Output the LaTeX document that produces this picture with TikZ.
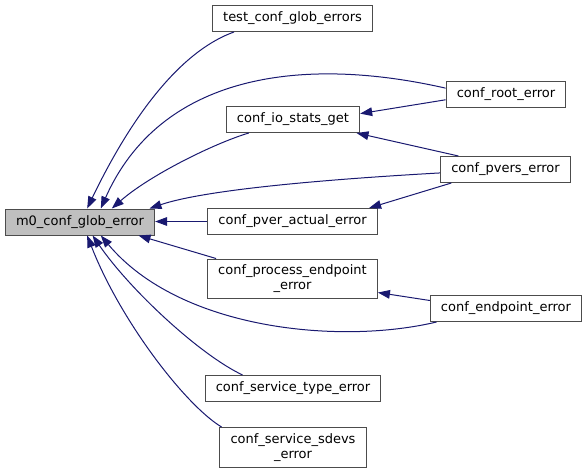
\documentclass[tikz,border=0pt]{standalone}
\usepackage{fontspec}
\setmainfont{DejaVu Sans}
\usetikzlibrary{arrows.meta}
\definecolor{doxyblue}{RGB}{25,25,112}
\definecolor{doxygrey}{RGB}{191,191,191}
\tikzset{
  fn/.style={draw=black!70, line width=0.75pt, fill=white, inner xsep=8pt,
    inner ysep=4.5pt, minimum height=19.5pt, align=center,
    font=\fontsize{9.75}{11.25}\selectfont},
  call/.style={->, draw=doxyblue, line width=0.75pt},
}
\begin{document}
\begin{tikzpicture}[>={Triangle[length=9pt,width=6.5pt]}, x=0.75pt, y=-0.75pt]
    \useasboundingbox (0,0) rectangle (588,474);
    % 1. Hàm chính
    \node[fn, fill=doxygrey] (glob) at (80,222) {m0\_conf\_glob\_error};

    % 2. Các hàm gọi trực tiếp
    \node[fn] (test) at (292.5,18.5) {test\_conf\_glob\_errors};
    \node[fn] (iostats) at (293,119.5) {conf\_io\_stats\_get};
    \node[fn] (pveract) at (292.5,221.5) {conf\_pver\_actual\_error};
    \node[fn] (process) at (292.5,279) {conf\_process\_endpoint\\\_error};
    \node[fn] (svctype) at (293,388.5) {conf\_service\_type\_error};
    \node[fn] (sdevs) at (293,447.5) {conf\_service\_sdevs\\\_error};

    % 3. Các hàm ở cột phải
    \node[fn] (root) at (506,94.5) {conf\_root\_error};
    \node[fn] (pvers) at (505.5,169.5) {conf\_pvers\_error};
    \node[fn] (endpoint) at (506,308.5) {conf\_endpoint\_error};

    % 4. Các cạnh về hàm chính
    \draw[call] (test.193) .. controls (170,55) and (120,140) .. (glob.62);
    \draw[call] (root.174) .. controls (300,55) and (160,75) .. (glob.33);
    \draw[call] (iostats.197) .. controls (215,143) and (150,175) .. (glob.23);
    \draw[call] (pvers.183) .. controls (350,178) and (210,188) .. (glob.11);
    \draw[call] (pveract.west) -- (pveract.west -| glob.east);
    \draw[call] (process.165) -- (glob.-13);
    \draw[call] (endpoint.191) .. controls (340,345) and (180,330) .. (glob.-33);
    \draw[call] (svctype.165) .. controls (200,355) and (130,290) .. (glob.-47);
    \draw[call] (sdevs.164) .. controls (185,405) and (120,320) .. (glob.-62);

    % 5. Các cạnh giữa hai cột
    \draw[call] (root.185) -- (iostats.5);
    \draw[call] (pvers.164) -- (iostats.-12);
    \draw[call] (pvers.194) -- (pveract.10);
    \draw[call] (endpoint.174) -- (process.-9);
\end{tikzpicture}
\end{document}
